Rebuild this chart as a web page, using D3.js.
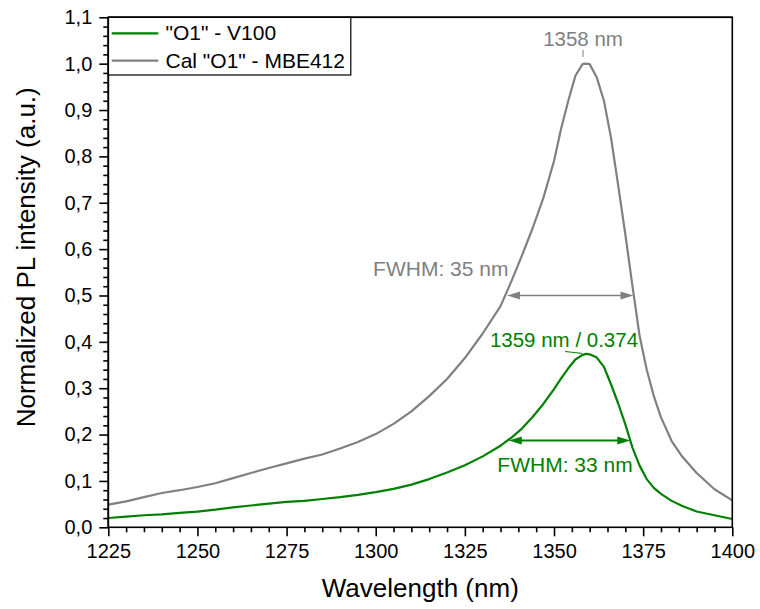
<!DOCTYPE html>
<html><head><meta charset="utf-8">
<script src="https://cdn.jsdelivr.net/npm/d3@7"></script>
<style>
body{margin:0;background:#fff}
svg{display:block}
text{font-family:"Liberation Sans",Arial,sans-serif}
</style>
</head><body>
<svg id="chart" width="760" height="609"></svg>
<script>
// ---- data ----
const wavelengths = [1225,1230,1235,1240,1245,1250,1255,1260,1265,1270,1275,1280,1285,1290,1295,1300,1305,1310,1315,1320,1325,1330,1335,1338,1341,1344,1347,1350,1352,1354,1356,1358,1359,1360,1362,1364,1366,1368,1370,1372,1374,1376,1378,1380,1383,1386,1390,1395,1400];
const calO1_MBE412 = [0.049,0.056,0.065,0.074,0.080,0.087,0.095,0.106,0.117,0.128,0.138,0.148,0.157,0.170,0.184,0.201,0.223,0.250,0.283,0.320,0.365,0.418,0.477,0.530,0.586,0.645,0.710,0.790,0.860,0.920,0.974,0.999,1.000,0.999,0.970,0.920,0.840,0.737,0.632,0.520,0.413,0.340,0.283,0.237,0.186,0.152,0.117,0.082,0.058];
const o1_V100 = [0.020,0.023,0.026,0.028,0.031,0.034,0.038,0.043,0.047,0.051,0.055,0.057,0.061,0.065,0.070,0.076,0.083,0.092,0.104,0.118,0.134,0.153,0.176,0.193,0.213,0.238,0.266,0.298,0.321,0.343,0.362,0.372,0.374,0.373,0.366,0.346,0.308,0.267,0.222,0.172,0.133,0.104,0.085,0.072,0.057,0.046,0.034,0.026,0.018];
const seriesNames = ['"O1" - V100', 'Cal "O1" - MBE412'];
const seriesColors = ['#008000', '#808080'];
const xTicks = [1225,1250,1275,1300,1325,1350,1375,1400];
const yTicks = [0,0.1,0.2,0.3,0.4,0.5,0.6,0.7,0.8,0.9,1.0,1.1];
// annotations (data coordinates)
const grayPeak = {x:1358, label:"1358 nm"};
const grayFwhm = {x0:1336.8, x1:1372.3, y:0.5, label:"FWHM: 35 nm"};
const greenPeak = {x:1359, y:0.374, label:"1359 nm / 0.374"};
const greenFwhm = {x0:1337.3, x1:1371.4, y:0.187, label:"FWHM: 33 nm"};

// ---- layout ----
const L = 108.3, R = 732.3, T = 17.3, B = 527.3;
const svg = d3.select("#chart");
const x = d3.scaleLinear().domain([1225,1400]).range([L,R]);
const y = d3.scaleLinear().domain([0,1.1]).range([B,T]);

const fmtY = d => d3.format(".1f")(d).replace(".", ",");

// minor ticks
const xMinor = d3.range(1225,1401,5).filter(v => (v-1225)%25 !== 0);
const yMinor = d3.range(0,56,1).map(i=>i*0.02).filter(v => Math.abs(v*10-Math.round(v*10))>1e-6 && v<=1.1);

const gx = svg.append("g").attr("transform",`translate(0,${B})`);
gx.call(d3.axisBottom(x).tickValues(xTicks).tickSize(9).tickPadding(6).tickFormat(d3.format("d")));
const gxm = svg.append("g").attr("transform",`translate(0,${B})`);
gxm.call(d3.axisBottom(x).tickValues(xMinor).tickSize(5).tickFormat(""));
const gy = svg.append("g").attr("transform",`translate(${L},0)`);
gy.call(d3.axisLeft(y).tickValues(yTicks).tickSize(9).tickPadding(7).tickFormat(fmtY));
const gym = svg.append("g").attr("transform",`translate(${L},0)`);
gym.call(d3.axisLeft(y).tickValues(yMinor).tickSize(5).tickFormat(""));
[gx,gxm,gy,gym].forEach(g=>{
  g.select(".domain").remove();
  g.selectAll(".tick line").attr("stroke","#000").attr("stroke-width",1.6);
  g.selectAll(".tick text").attr("fill","#000").style("font-size","20px")
   .style("font-family",'"Liberation Sans",Arial,sans-serif');
});
gx.selectAll(".tick text").attr("dy","0.78em");

// curves
const line = d3.line().x((d,i)=>x(wavelengths[i])).y(d=>y(d));
svg.append("path").datum(calO1_MBE412).attr("d",line).attr("fill","none")
  .attr("stroke",seriesColors[1]).attr("stroke-width",2.2).attr("stroke-linejoin","round");
svg.append("path").datum(o1_V100).attr("d",line).attr("fill","none")
  .attr("stroke",seriesColors[0]).attr("stroke-width",2.2).attr("stroke-linejoin","round");

// frame
svg.append("rect").attr("x",L).attr("y",T).attr("width",R-L).attr("height",B-T)
  .attr("fill","none").attr("stroke","#000").attr("stroke-width",1.6);

// arrow helper
function dblArrow(a, color, w){
  const yy = y(a.y), xa = x(a.x0), xb = x(a.x1), len = 13, hw = 4;
  svg.append("line").attr("x1",xa+len-1).attr("x2",xb-len+1).attr("y1",yy).attr("y2",yy)
    .attr("stroke",color).attr("stroke-width",w);
  svg.append("path").attr("d",`M${xa},${yy}L${xa+len},${yy-hw}L${xa+len},${yy+hw}Z`).attr("fill",color);
  svg.append("path").attr("d",`M${xb},${yy}L${xb-len},${yy-hw}L${xb-len},${yy+hw}Z`).attr("fill",color);
}
dblArrow(grayFwhm, seriesColors[1], 1.6);
dblArrow(greenFwhm, seriesColors[0], 2);

// annotations
svg.append("text").attr("x",x(grayPeak.x)+0.5).attr("y",46).attr("text-anchor","middle")
  .attr("fill",seriesColors[1]).style("font-size","20.5px").text(grayPeak.label);
svg.append("line").attr("x1",x(grayPeak.x)+0.5).attr("x2",x(grayPeak.x)+0.5).attr("y1",50).attr("y2",57)
  .attr("stroke",seriesColors[1]).attr("stroke-width",1);
svg.append("text").attr("x",x(grayFwhm.x0)+1.5).attr("y",y(grayFwhm.y)-19).attr("text-anchor","end")
  .attr("fill",seriesColors[1]).style("font-size","21px").text(grayFwhm.label);

svg.append("text").attr("x",564).attr("y",347).attr("text-anchor","middle")
  .attr("fill",seriesColors[0]).style("font-size","20.5px").text(greenPeak.label);
svg.append("line").attr("x1",565).attr("y1",351.5).attr("x2",x(greenPeak.x)-4).attr("y2",y(greenPeak.y)-0.5)
  .attr("stroke",seriesColors[0]).attr("stroke-width",1);
svg.append("text").attr("x",565).attr("y",472).attr("text-anchor","middle")
  .attr("fill",seriesColors[0]).style("font-size","21px").text(greenFwhm.label);

// legend
svg.append("rect").attr("x",L).attr("y",T).attr("width",242.5).attr("height",57.7)
  .attr("fill","#fff").attr("stroke","#000").attr("stroke-width",1.2);
seriesNames.forEach((n,i)=>{
  const yy = 33.3 + i*27.4;
  svg.append("line").attr("x1",111.7).attr("x2",158.3).attr("y1",yy).attr("y2",yy)
    .attr("stroke",seriesColors[i]).attr("stroke-width",2.2);
  svg.append("text").attr("x",165.5).attr("y",yy+7).attr("fill","#000")
    .style("font-size","21px").text(n);
});
// redraw frame lines over legend
svg.append("line").attr("x1",L).attr("x2",R).attr("y1",T).attr("y2",T).attr("stroke","#000").attr("stroke-width",1.6);
svg.append("line").attr("x1",L).attr("x2",L).attr("y1",T).attr("y2",B).attr("stroke","#000").attr("stroke-width",1.6);

// axis titles
svg.append("text").attr("x",(L+R)/2).attr("y",597).attr("text-anchor","middle")
  .attr("fill","#000").style("font-size","26px").text("Wavelength (nm)");
svg.append("text").attr("transform",`translate(35,${(T+B)/2 - 15}) rotate(-90)`).attr("text-anchor","middle")
  .attr("fill","#000").style("font-size","26px").text("Normalized PL intensity (a.u.)");
</script>
</body></html>
